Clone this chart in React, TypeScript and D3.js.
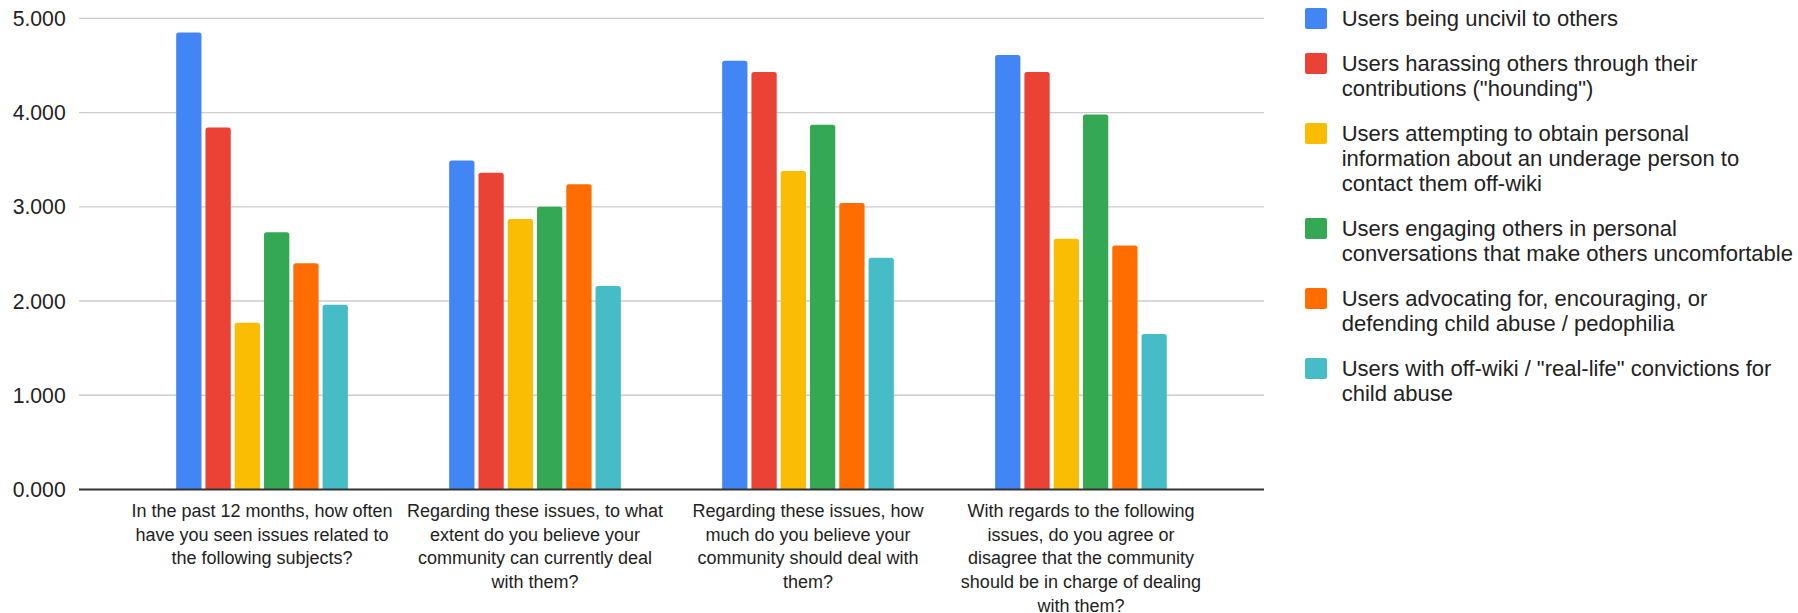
import React from "react";
import * as d3 from "d3";

const categories = ["q1", "q2", "q3", "q4"];
const categoryLabels: string[][] = [
  ["In the past 12 months, how often", "have you seen issues related to", "the following subjects?"],
  ["Regarding these issues, to what", "extent do you believe your", "community can currently deal", "with them?"],
  ["Regarding these issues, how", "much do you believe your", "community should deal with", "them?"],
  ["With regards to the following", "issues, do you agree or", "disagree that the community", "should be in charge of dealing", "with them?"],
];

const seriesNames: string[][] = [
  ["Users being uncivil to others"],
  ["Users harassing others through their", "contributions (\"hounding\")"],
  ["Users attempting to obtain personal", "information about an underage person to", "contact them off-wiki"],
  ["Users engaging others in personal", "conversations that make others uncomfortable"],
  ["Users advocating for, encouraging, or", "defending child abuse / pedophilia"],
  ["Users with off-wiki / \"real-life\" convictions for", "child abuse"],
];
const seriesColors = ["#4285F4", "#EA4335", "#FBBC04", "#34A853", "#FF6D01", "#46BDC6"];

const uncivil = [4.85, 3.49, 4.55, 4.61];
const harassing = [3.84, 3.36, 4.43, 4.43];
const underage = [1.77, 2.87, 3.38, 2.66];
const uncomfortable = [2.73, 3.0, 3.87, 3.98];
const advocating = [2.4, 3.24, 3.04, 2.59];
const convictions = [1.96, 2.16, 2.46, 1.65];
const seriesValues = [uncivil, harassing, underage, uncomfortable, advocating, convictions];

const yTicks = [0, 1, 2, 3, 4, 5];

const W = 1798;
const H = 613;
const FONT = "'Liberation Sans', Arial, sans-serif";

function roundedTopBar(x: number, y: number, w: number, h: number, r: number) {
  const rr = Math.min(r, h, w / 2);
  return `M${x},${y + h}V${y + rr}Q${x},${y} ${x + rr},${y}H${x + w - rr}Q${x + w},${y} ${x + w},${y + rr}V${y + h}Z`;
}

export default function App() {
  const plotLeft = 79;
  const plotRight = 1264;
  const y = d3.scaleLinear().domain([0, 5]).range([489.5, 18.3]);
  const x0 = d3.scaleBand<string>().domain(categories).range([plotLeft, plotRight]).paddingInner(0.371).paddingOuter(0.356);
  const x1 = d3.scaleBand<number>().domain(d3.range(seriesValues.length)).range([0, x0.bandwidth()]).paddingInner(0.1365).paddingOuter(0);
  const fmt = d3.format(".3f");

  const legendYs: number[] = [];
  let ly = 18.3;
  seriesNames.forEach((lines) => {
    legendYs.push(ly);
    ly += (lines.length - 1) * 25 + 45;
  });

  return (
    <svg width={W} height={H} style={{ position: "absolute", left: 0, top: 0, background: "#fff" }} fontFamily={FONT}>
      <rect width={W} height={H} fill="#fff" />
      {yTicks.filter((t) => t > 0).map((t) => (
        <line key={"g" + t} x1={plotLeft} x2={plotRight} y1={y(t)} y2={y(t)} stroke="#cccccc" strokeWidth={1.3} />
      ))}
      {yTicks.map((t) => (
        <text key={"t" + t} x={65.7} y={y(t)} textAnchor="end" dominantBaseline="central" fontSize={21.2} fill="#222">
          {fmt(t)}
        </text>
      ))}
      {categories.map((c, ci) => (
        <g key={c}>
          {seriesValues.map((vals, si) => {
            const bx = (x0(c) as number) + (x1(si) as number);
            const by = y(vals[ci]);
            return <path key={si} d={roundedTopBar(bx, by, x1.bandwidth(), y(0) - by, 2.5)} fill={seriesColors[si]} />;
          })}
          {categoryLabels[ci].map((line, li) => (
            <text key={li} x={(x0(c) as number) + x0.bandwidth() / 2} y={510.7 + li * 23.8} textAnchor="middle" dominantBaseline="central" fontSize={18} fill="#222">
              {line}
            </text>
          ))}
        </g>
      ))}
      <line x1={plotLeft} x2={plotRight} y1={y(0)} y2={y(0)} stroke="#333" strokeWidth={2} />
      {seriesNames.map((lines, si) => (
        <g key={"l" + si}>
          <rect x={1305} y={legendYs[si] - 10.3} width={22} height={21} rx={2} fill={seriesColors[si]} />
          {lines.map((line, li) => (
            <text key={li} x={1341.7} y={legendYs[si] + li * 25} dominantBaseline="central" fontSize={22} fill="#222">
              {line}
            </text>
          ))}
        </g>
      ))}
    </svg>
  );
}
